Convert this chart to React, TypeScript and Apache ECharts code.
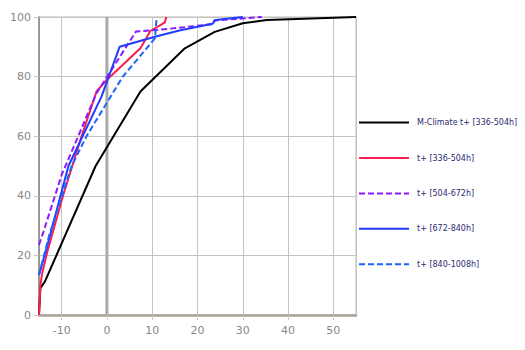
import React, { useEffect, useRef } from "react";
import * as echarts from "echarts";

const seriesNames = [
  "M-Climate t+ [336-504h]",
  "t+ [336-504h]",
  "t+ [504-672h]",
  "t+ [672-840h]",
  "t+ [840-1008h]",
];

const mClimate: number[][] = [
  [-15, 0], [-14.7, 9], [-13.7, 11.2], [-2.5, 50], [7.4, 75], [17.2, 89.5],
  [23.8, 95], [30, 97.9], [35.3, 99], [55, 100],
];
const red336: number[][] = [
  [-15, 0], [-14.7, 10], [-14.3, 14], [-13.2, 21], [-9.7, 40], [-5.6, 60],
  [-2.3, 75], [-0.3, 78.5], [7.4, 89.5], [9.6, 95.3], [12.8, 98.2], [13.1, 100],
];
const purple504: number[][] = [
  [-15, 23.5], [-14, 28], [-10, 47], [-2.3, 74.4], [6.4, 95.1], [15.5, 96.3],
  [23.3, 97.6], [23.7, 98.8], [34.2, 100],
];
const blue672: number[][] = [
  [-15, 13.4], [-13.4, 22], [-8.5, 50], [-1.2, 73.3], [2.8, 90], [10.6, 93.4],
  [16, 95.5], [23.3, 97.7], [24, 99], [30, 100],
];
const blue840: number[][] = [
  [-15, 13.5], [-12.7, 27], [-7.8, 50], [-4.5, 60], [3.5, 80], [10.6, 92.8],
  [11, 100],
];
const zeroLine: number[][] = [
  [0, 0], [0, 100],
];

const xMin = -15;
const xMax = 55;
const yMin = 0;
const yMax = 100;

export default function App() {
  const ref = useRef<HTMLDivElement>(null);
  useEffect(() => {
    if (!ref.current) return;
    const chart = echarts.init(ref.current, undefined, { renderer: "svg" });
    const font = "DejaVu Sans";
    const mk = (name: string, data: number[][], color: string, dashed: boolean) => ({
      name,
      type: "line",
      data,
      symbol: "none",
      z: 3,
      lineStyle: { color, width: 2, type: dashed ? [6, 3] : "solid" },
      itemStyle: { color },
    });
    chart.setOption({
      animation: false,
      grid: {
        left: 39,
        right: 169,
        top: 17,
        bottom: 35,
        show: true,
        borderColor: "#d4d0c8",
        borderWidth: 1.5,
      },
      legend: {
        orient: "vertical",
        left: 358,
        top: 117,
        padding: 0,
        itemWidth: 50,
        itemHeight: 14,
        itemGap: 24.2,
        data: seriesNames,
        itemStyle: { opacity: 0 },
        textStyle: { fontFamily: font, fontSize: 8, color: "#2a2a72", padding: [0, 0, 0, 3] },
      },
      xAxis: {
        type: "value",
        min: xMin,
        max: xMax,
        axisLine: { show: true, onZero: false, lineStyle: { color: "#a8a298", width: 2.5 } },
        axisTick: { show: true, length: 5, lineStyle: { color: "#c8c8c8" } },
        axisLabel: {
          fontFamily: font,
          fontSize: 11,
          color: "#888",
          margin: 10,
          showMinLabel: false,
          showMaxLabel: false,
        },
        splitLine: { show: true, lineStyle: { color: "#c4c4c4", width: 1 } },
      },
      yAxis: {
        type: "value",
        min: yMin,
        max: yMax,
        interval: 20,
        axisLine: { show: true, onZero: false, lineStyle: { color: "#8c8680", width: 1.5 } },
        axisTick: { show: true, length: 5, lineStyle: { color: "#c8c8c8" } },
        axisLabel: { fontFamily: font, fontSize: 11, color: "#888", margin: 8 },
        splitLine: { show: true, lineStyle: { color: "#c4c4c4", width: 1 } },
      },
      series: [
        {
          name: "zero",
          type: "line",
          data: zeroLine,
          symbol: "none",
          silent: true,
          z: 1,
          lineStyle: { color: "#aaaaaa", width: 3 },
        },
        mk(seriesNames[0], mClimate, "#000000", false),
        mk(seriesNames[1], red336, "#ff1a50", false),
        mk(seriesNames[2], purple504, "#8a1aff", true),
        mk(seriesNames[3], blue672, "#1f3cff", false),
        mk(seriesNames[4], blue840, "#1a66ff", true),
      ],
    });
    return () => chart.dispose();
  }, []);
  return <div ref={ref} style={{ width: 525, height: 350, position: "absolute", left: 0, top: 0 }} />;
}
